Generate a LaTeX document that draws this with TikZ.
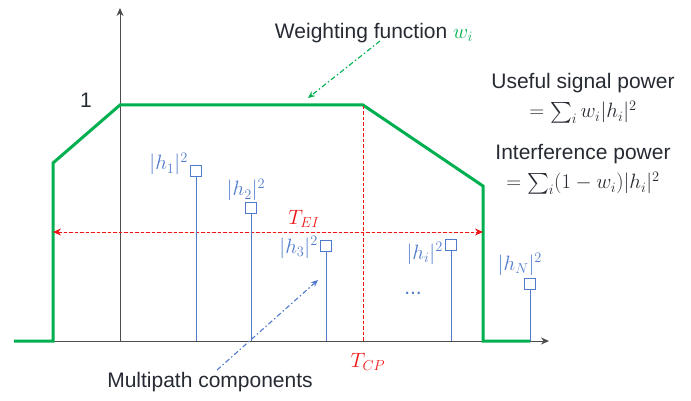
\documentclass[tikz,border=0pt]{standalone}
\usepackage{amsmath}
\usepackage[no-math]{fontspec}
\setmainfont{Liberation Sans}
\usetikzlibrary{arrows.meta,positioning,calc}

\definecolor{wgreen}{RGB}{0,176,80}
\definecolor{pblue}{RGB}{80,122,204}
\definecolor{tred}{RGB}{240,20,20}
\definecolor{txt}{RGB}{38,42,50}

\begin{document}
\begin{tikzpicture}[
  x=1pt, y=-1pt,
  font=\fontsize{21}{25}\selectfont, text=txt,
  >={Stealth[length=8pt, width=7pt]},
  axis/.style={->, line width=0.9pt, draw=black!70},
  weight/.style={wgreen, line width=3pt},
  stem/.style={pblue, line width=1pt},
  tap/.style={draw=pblue, line width=1.1pt, fill=white, minimum size=11pt, inner sep=0pt},
  tlab/.style={text=pblue, inner sep=0pt, font=\fontsize{21}{25}\selectfont},
  span/.style={draw=tred, line width=1pt, dash pattern=on 3.5pt off 2pt},
  pointer/.style={-{Stealth[length=7pt, width=6pt]}, line width=1.1pt, dash pattern=on 5pt off 2.5pt on 1.5pt off 2.5pt},
  lab/.style={align=center, inner sep=0pt},
]
\useasboundingbox (0,0) rectangle (691,401);

% ---- axes
\coordinate (o)  at (120,341);
\coordinate (xs) at (14,341);
\coordinate (xe) at (549,341);
\coordinate (ye) at (120,8);
\draw[axis] (xs) -- (xe);
\draw[axis] (o) -- (ye);
\node[lab] (one) at (86,100) {1};

% ---- weighting function
\draw[weight] (xs) -- (53,341) -- (53,163) -- (120,105) -- (363,105) -- (483,186) -- (483,341) -- (530,341);

% ---- cyclic prefix and effective interval
\coordinate (cp) at (363,106);
\draw[span] (cp) -- (cp |- o);
\node[text=tred] (tcp) at (368,362) {$T_{CP}$};
\coordinate (el) at (53,232);
\coordinate (er) at (483,232);
\draw[span, {Stealth[length=8pt, width=7pt]}-{Stealth[length=8pt, width=7pt]}, fill=tred] (el) -- (er);
\node[text=tred] (tei) at (304,219) {$T_{EI}$};

% ---- multipath taps
\node[tap] (h1) at (196,171) {};
\node[tap] (h2) at (251,208) {};
\node[tap] (h3) at (326,246) {};
\node[tap] (hi) at (451,245) {};
\node[tap] (hN) at (530,284) {};
\foreach \t in {h1,h2,h3,hi,hN}
  \draw[stem] (\t.south) -- (\t.south |- o);
\node[tlab, anchor=base east] (l1) at (188,170) {$|h_1|^2$};
\node[tlab, anchor=base] (l2) at (246,196) {$|h_2|^2$};
\node[tlab, anchor=base east] (l3) at (318,253) {$|h_3|^2$};
\node[tlab, anchor=base east] (li) at (443,259) {$|h_i|^2$};
\node[tlab, anchor=base] (lN) at (520,270) {$|h_N|^2$};
\node[tlab] (dots) at (413,293) {...};

% ---- labels and pointers
\node[lab] (wlab) at (374,33) {Weighting function \textcolor{wgreen}{$w_i$}};
\coordinate (wtip) at (308,98);
\draw[pointer, wgreen] ($(wlab.south)+(6,-2)$) -- (wtip);
\node[lab] (mpc) at (210,382) {Multipath components};
\coordinate (mtip) at (318,280);
\draw[pointer, pblue] ($(mpc.north)+(7,-2)$) -- (mtip);

% ---- the two powers
\node[lab, anchor=base] (useful) at (583,89)  {Useful signal power};
\node[lab, anchor=base] (usum)   at (583,118) {$=\sum_i w_i|h_i|^2$};
\node[lab, anchor=base] (interf) at (583,160) {Interference power};
\node[lab, anchor=base] (isum)   at (583,189) {$=\sum_i(1-w_i)|h_i|^2$};
\end{tikzpicture}
\end{document}
